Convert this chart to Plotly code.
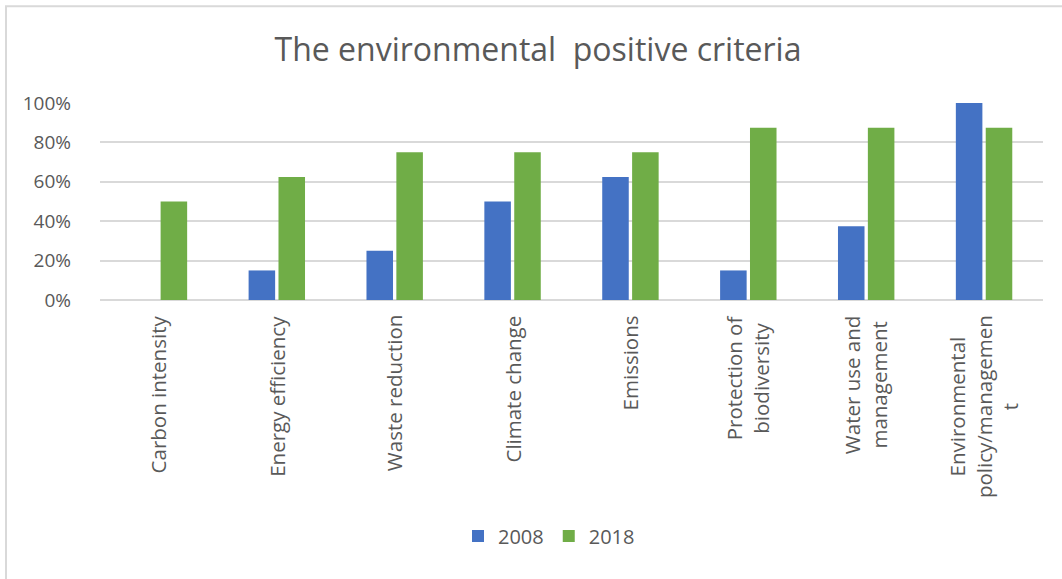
import plotly.graph_objects as go

# Share of companies reporting each environmental criterion
categories = [
    "Carbon intensity",
    "Energy efficiency",
    "Waste reduction",
    "Climate change",
    "Emissions",
    "Protection of<br>biodiversity",
    "Water use and<br>management",
    "Environmental<br>policy/managemen<br>t",
]
values_2008 = [0.0, 0.15, 0.25, 0.50, 0.625, 0.15, 0.375, 1.00]
values_2018 = [0.50, 0.625, 0.75, 0.75, 0.75, 0.875, 0.875, 0.875]
series_names = ["2008", "2018"]

BLUE = "#4472C4"
GREEN = "#70AD47"
TEXT = "#595959"
GRID = "#d9d9d9"
FONT = "Open Sans"

W, H = 1062, 579
L, R, T, B = 100, 19, 103, 278.5
plot_w = W - L - R
plot_h = H - T - B


def px_x(x):
    return (x - L) / plot_w


def px_y(y):
    return (H - B - y) / plot_h


fig = go.Figure()
fig.add_trace(go.Bar(name=series_names[0], x=categories, y=values_2008,
                     marker=dict(color=BLUE, line=dict(width=0))))
fig.add_trace(go.Bar(name=series_names[1], x=categories, y=values_2018,
                     marker=dict(color=GREEN, line=dict(width=0))))

# Category labels: rotated, lines centred within each label block
annotations = [
    dict(x=c, y=px_y(314), xref="x", yref="paper", text=c,
         textangle=-90, xanchor="center", yanchor="top", align="center",
         showarrow=False, font=dict(family=FONT, size=20.5, color=TEXT))
    for c in categories
]

fig.update_layout(
    width=W, height=H,
    margin=dict(l=L, r=R, t=T, b=B),
    paper_bgcolor="white", plot_bgcolor="white",
    barmode="group", bargap=0.493, bargroupgap=0.112,
    font=dict(family=FONT, color=TEXT, size=19),
    title=dict(text="The environmental  positive criteria",
               x=538 / W, xref="container", xanchor="center",
               y=1 - 50 / H, yref="container", yanchor="middle",
               font=dict(family=FONT, size=32, color=TEXT)),
    legend=dict(orientation="h", x=px_x(549), xanchor="center",
                y=px_y(537), yanchor="middle",
                font=dict(family=FONT, size=20, color=TEXT),
                itemwidth=30, traceorder="normal"),
    xaxis=dict(showgrid=False, showline=False, ticks="",
               showticklabels=False),
    yaxis=dict(range=[0, 1.0], dtick=0.2, tickformat=".0%",
               showgrid=True, gridcolor=GRID, gridwidth=1.5,
               zeroline=True, zerolinecolor=GRID, zerolinewidth=1.5,
               showline=False, ticks="", ticklabelstandoff=28,
               tickfont=dict(family=FONT, size=19, color=TEXT)),
    annotations=annotations,
    shapes=[dict(type="rect", xref="paper", yref="paper",
                 x0=px_x(6), x1=px_x(W + 20), y0=px_y(H + 20), y1=px_y(6),
                 line=dict(color=GRID, width=2), fillcolor="rgba(0,0,0,0)",
                 layer="below")],
)

fig.write_html("out.html")
